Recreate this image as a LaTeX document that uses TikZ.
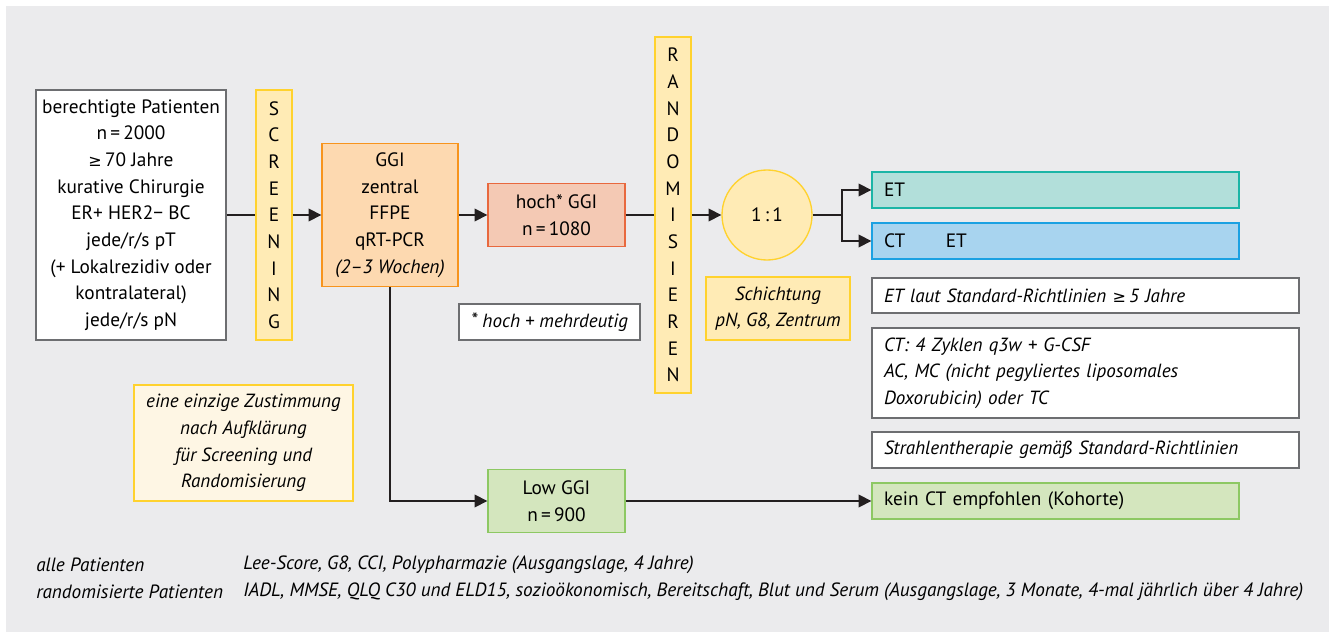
\documentclass[tikz,border=0pt]{standalone}
\usepackage{fontspec}
\setmainfont{PT Sans}
\newfontfamily\symfont{DejaVu Sans}
\usetikzlibrary{arrows.meta,calc}
\definecolor{bggray}{HTML}{EBEBED}
\definecolor{linegray}{HTML}{231F20}
\definecolor{boxgray}{HTML}{6D6E71}
\definecolor{ylwfill}{HTML}{FFEBB5}
\definecolor{ylwline}{HTML}{FFD22E}
\definecolor{orfill}{HTML}{FDD9B0}
\definecolor{orline}{HTML}{F7941D}
\definecolor{redfill}{HTML}{F4C9B4}
\definecolor{redline}{HTML}{E8683E}
\definecolor{tealfill}{HTML}{B2DFDA}
\definecolor{tealline}{HTML}{1BB5A6}
\definecolor{bluefill}{HTML}{A8D4EF}
\definecolor{blueline}{HTML}{1BA1E2}
\definecolor{grnfill}{HTML}{D4E6BE}
\definecolor{grnline}{HTML}{8DC863}
\definecolor{creamfill}{HTML}{FEF6E4}
\newcommand{\atleast}{{\symfont\fontsize{12}{20}\selectfont ≥}}
\newcommand{\mainsize}{\fontsize{14.5}{20}\selectfont}
\newcommand{\itsize}{\fontsize{14.3}{20}\selectfont\itshape}
\tikzset{
  base/.style={draw, line width=1pt, inner sep=0pt, align=center, font=\mainsize},
  whitebox/.style={base, fill=white, draw=boxgray},
  barbox/.style={base, fill=ylwfill, draw=ylwline, minimum width=27pt},
  ggibox/.style={base, fill=orfill, draw=orline},
  hochbox/.style={base, fill=redfill, draw=redline},
  grnbox/.style={base, fill=grnfill, draw=grnline},
  wide/.style={minimum width=275.25pt, minimum height=27pt, text width=257.25pt, align=left},
  wider/.style={minimum width=320.25pt, text width=302.25pt, align=left, font=\itsize},
  conn/.style={draw=linegray, line width=1pt},
  arr/.style={conn, -{Triangle[length=9.5pt, width=9.5pt]}},
  foot/.style={anchor=west, inner sep=0pt, font=\fontsize{14.4}{20}\selectfont\itshape}
}
\begin{document}
\begin{tikzpicture}[x=0.75pt, y=-0.75pt]
  % canvas and grey panel
  \useasboundingbox (0,0) rectangle (1335,634);
  \fill[white] (0,0) rectangle (1335,634);
  \fill[bggray] (6,6) rectangle (1329,632);

  % main flow
  \node[whitebox, minimum width=142.5pt, minimum height=187.5pt] (pat) at (131,215)
    {berechtigte Patienten\\ n\,=\,2000\\ \atleast\,70 Jahre\\ kurative Chirurgie\\
     ER+ HER2− BC\\ jede/r/s pT\\ (+ Lokalrezidiv oder\\ kontralateral)\\ jede/r/s pN};
  \node[barbox, minimum height=187.5pt] (scr) at (274,215)
    {S\\ C\\ R\\ E\\ E\\ N\\ I\\ N\\ G};
  \node[ggibox, minimum width=102pt, minimum height=107.25pt] (ggi) at (390,215)
    {GGI\\ zentral\\ FFPE\\ qRT-PCR\\ \textit{(2–3 Wochen)}};
  \node[hochbox, minimum width=102.75pt, minimum height=47.25pt] (hoch) at (556.5,215)
    {hoch* GGI\\ n\,=\,1080};
  \node[barbox, minimum height=267pt] (rand) at (673,215)
    {R\\ A\\ N\\ D\\ O\\ M\\ I\\ S\\ I\\ E\\ R\\ E\\ N};
  \node[base, circle, fill=ylwfill, draw=ylwline, minimum size=67.5pt] (ratio) at (767,215)
    {1\,:\,1};
  \node[base, fill=ylwfill, draw=ylwline, minimum width=108pt, minimum height=47.25pt,
    font=\itsize] (strat) at (778,308.5)
    {Schichtung\\ pN, G8, Zentrum};
  \node[whitebox, minimum width=135.75pt, minimum height=27pt, font=\itsize] (note) at (549.5,322)
    {\raisebox{1pt}{*} hoch + mehrdeutig};

  % trial arms
  \node[base, wide, fill=tealfill, draw=tealline] (et) at (1055.5,190) {ET};
  \node[base, wide, fill=bluefill, draw=blueline] (ctet) at (1055.5,241) {CT\hspace{2.1em}ET};
  \node[whitebox, wider, minimum height=26.25pt] (etinfo) at (1085.5,295.5)
    {ET laut Standard-Richtlinien \atleast\,5 Jahre};
  \node[whitebox, wider, minimum height=67.5pt] (ctinfo) at (1085.5,373)
    {CT: 4 Zyklen q3w + G-CSF\\ AC, MC (nicht pegyliertes liposomales\\ Doxorubicin) oder TC};
  \node[whitebox, wider, minimum height=27pt] (rtinfo) at (1085.5,450)
    {Strahlentherapie gemäß Standard-Richtlinien};

  % consent and low-risk branch
  \node[base, fill=creamfill, draw=ylwline, minimum width=164.25pt, minimum height=87pt,
    font=\itsize] (consent) at (243.5,443)
    {eine einzige Zustimmung\\ nach Aufklärung\\ für Screening und\\ Randomisierung};
  \node[grnbox, minimum width=102.75pt, minimum height=47.25pt] (low) at (556.5,501)
    {Low GGI\\ n\,=\,900};
  \node[grnbox, wide] (kein) at (1055.5,501) {kein CT empfohlen (Kohorte)};

  % connectors
  \draw[conn] (pat.east) -- (scr.west);
  \draw[arr] (scr.east) -- (ggi.west);
  \draw[arr] (ggi.east) -- (hoch.west);
  \draw[conn] (hoch.east) -- (rand.west);
  \draw[arr] (rand.east) -- (ratio.west);
  \coordinate (split) at (842,215);
  \draw[conn] (ratio.east) -- (split);
  \draw[arr] (split) |- (et.west);
  \draw[arr] (split) |- (ctet.west);
  \draw[arr] (ggi.south) |- (low.west);
  \draw[arr] (low.east) -- (kein.west);

  % assessment schedule
  \node[foot] (f1a) at (36,565) {alle Patienten};
  \node[foot] (f1b) at (243,565) {Lee-Score, G8, CCI, Polypharmazie (Ausgangslage, 4 Jahre)};
  \node[foot] (f2a) at (36,592) {randomisierte Patienten};
  \node[foot] (f2b) at (243,592) {IADL, MMSE, QLQ C30 und ELD15, sozioökonomisch, Bereitschaft, Blut und Serum (Ausgangslage, 3 Monate, 4-mal jährlich über 4 Jahre)};
\end{tikzpicture}
\end{document}
